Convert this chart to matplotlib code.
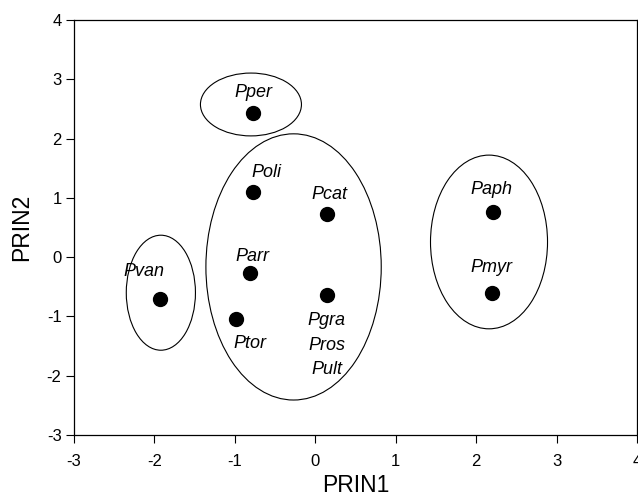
import matplotlib
matplotlib.use("Agg")
import matplotlib.pyplot as plt
from matplotlib.patches import Ellipse

# Species points (PRIN1, PRIN2)
species = ["Pper", "Poli", "Pcat", "Parr", "Ptor", "Pgra\nPros\nPult", "Paph", "Pmyr", "Pvan"]
prin1 = [-0.77, -0.78, 0.15, -0.81, -0.98, 0.14, 2.21, 2.20, -1.93]
prin2 = [2.43, 1.10, 0.73, -0.27, -1.04, -0.64, 0.76, -0.60, -0.70]
# label centre offsets in points (dx, dy) relative to point
label_dx = [0, 10, 1.4, 2, 9.4, 0, -1.4, -0.7, -11.5]
label_dy = [15, 13.7, 13.7, 12, -17.8, -36, 16.5, 18, 19.4]

# Group ellipses: center x, center y, width, height
ell_cx = [-1.92, -0.80, -0.27, 2.16]
ell_cy = [-0.60, 2.575, -0.165, 0.256]
ell_w = [0.86, 1.256, 2.18, 1.455]
ell_h = [1.94, 1.06, 4.49, 2.93]

xticks = [-3, -2, -1, 0, 1, 2, 3, 4]
yticks = [-3, -2, -1, 0, 1, 2, 3, 4]

plt.rcParams['font.family'] = ['Liberation Sans', 'DejaVu Sans']

fig = plt.figure(figsize=(6.38, 5.01), dpi=100)
ax = fig.add_axes([74/638, 66/501, 563/638, 415/501])

for cx, cy, w, h in zip(ell_cx, ell_cy, ell_w, ell_h):
    ax.add_patch(Ellipse((cx, cy), w, h, fill=False, edgecolor='black', linewidth=0.8))

ax.plot(prin1, prin2, 'o', color='black', markersize=10, linestyle='none')

for name, x, y, dx, dy in zip(species, prin1, prin2, label_dx, label_dy):
    ax.annotate(name, (x, y), xytext=(dx, dy), textcoords='offset points',
                ha='center', va='center', fontsize=13, style='italic',
                linespacing=1.55)

ax.set_xlim(-3, 4)
ax.set_ylim(-3, 4)
ax.set_xticks(xticks)
ax.set_yticks(yticks)
ax.set_xticklabels([str(t) for t in xticks])
ax.set_yticklabels([str(t) for t in yticks])
ax.tick_params(axis='both', direction='out', length=5.5, width=0.8, labelsize=12)
ax.tick_params(axis='x', pad=8)
ax.tick_params(axis='y', pad=3.5)
for s in ax.spines.values():
    s.set_linewidth(0.9)

ax.set_xlabel("PRIN1", fontsize=16.5, labelpad=4)
ax.set_ylabel("PRIN2", fontsize=16.5, labelpad=9.5)

fig.savefig("out.png", dpi=100)
